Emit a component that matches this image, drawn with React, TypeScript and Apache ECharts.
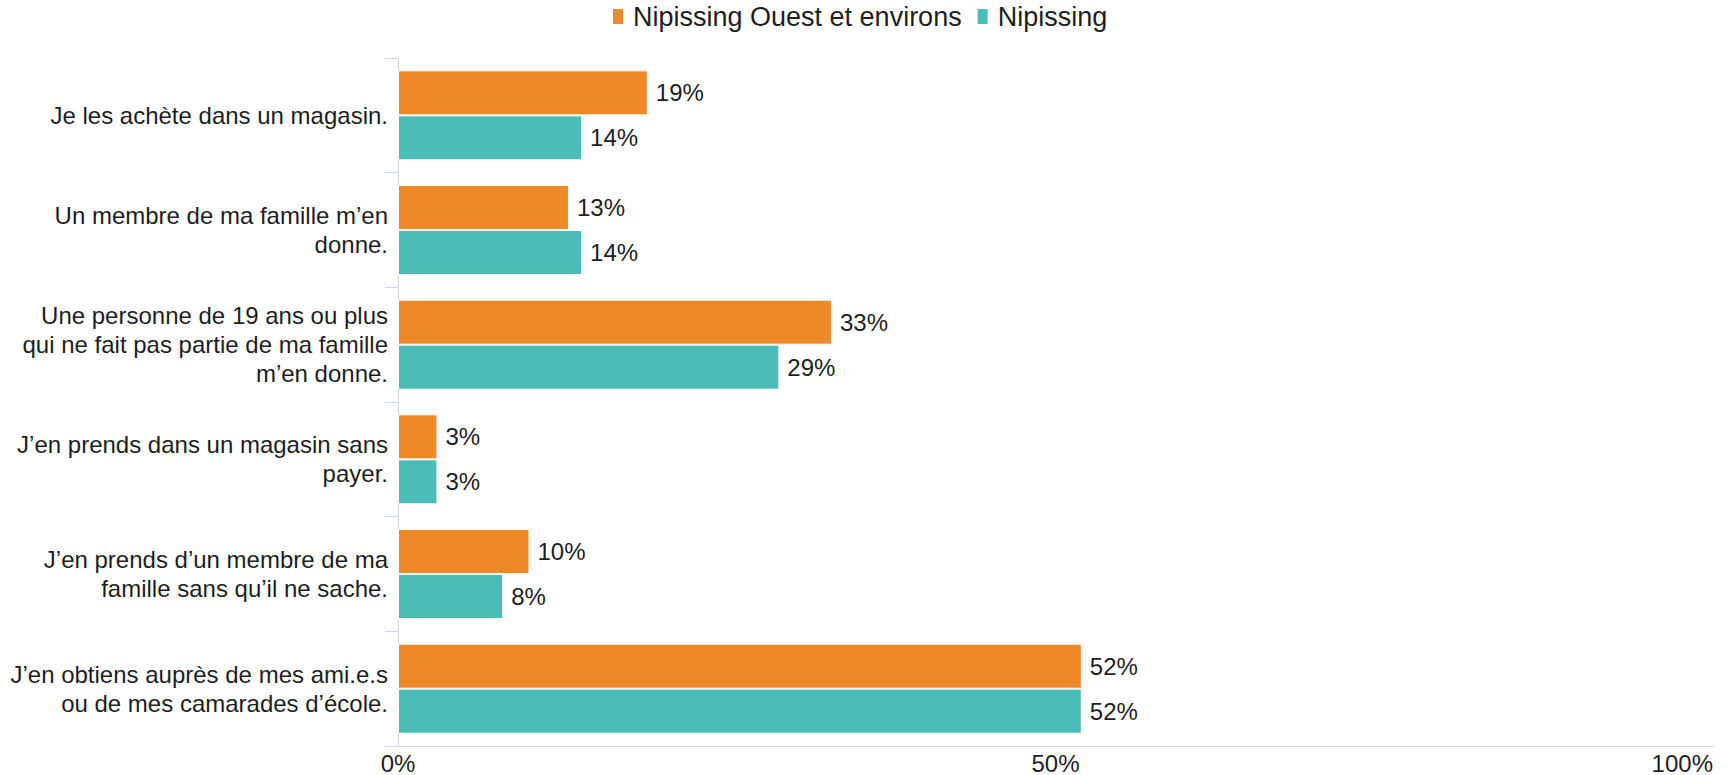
import React, { useEffect, useRef } from "react";
import * as echarts from "echarts";

const categories = [
  "Je les achète dans un magasin.",
  "Un membre de ma famille m’en\ndonne.",
  "Une personne de 19 ans ou plus\nqui ne fait pas partie de ma famille\nm’en donne.",
  "J’en prends dans un magasin sans\npayer.",
  "J’en prends d’un membre de ma\nfamille sans qu’il ne sache.",
  "J’en obtiens auprès de mes ami.e.s\nou de mes camarades d’école.",
];
const seriesNames = ["Nipissing Ouest et environs", "Nipissing"];
const westValues = [19, 13, 33, 3, 10, 52];
const nipissingValues = [14, 14, 29, 3, 8, 52];
const xTicks = { min: 0, max: 100, interval: 50 };

const FONT = '"Liberation Sans", Arial, Helvetica, sans-serif';
const TEXT = "#1e1e1e";
const AXIS = "#ccd6eb";
const COLORS = ["#EF8826", "#4CBCB6"];

export default function App() {
  const ref = useRef<HTMLDivElement>(null);
  useEffect(() => {
    document.body.style.margin = "0";
    if (!ref.current) return;
    const chart = echarts.init(ref.current, undefined, { renderer: "svg" });
    const label = {
      show: true,
      position: "right" as const,
      distance: 8,
      formatter: "{c}%",
      fontSize: 24,
      color: TEXT,
      fontFamily: FONT,
    };
    chart.setOption({
      animation: false,
      textStyle: { fontFamily: FONT },
      color: COLORS,
      legend: {
        data: seriesNames,
        top: 3,
        left: 611,
        padding: 0,
        icon: "rect",
        itemWidth: 12,
        itemHeight: 17,
        itemGap: 14,
        textStyle: { fontSize: 27, color: TEXT, fontFamily: FONT, padding: [0, 0, 0, 4] },
      },
      grid: { left: 398, right: 16, top: 58, bottom: 24, containLabel: false },
      xAxis: {
        type: "value",
        min: xTicks.min,
        max: xTicks.max,
        interval: xTicks.interval,
        axisLine: { show: true, lineStyle: { color: AXIS, width: 1 } },
        axisTick: { show: false },
        splitLine: { show: false },
        axisLabel: {
          formatter: "{value}%",
          fontSize: 24,
          color: TEXT,
          fontFamily: FONT,
          margin: 5,
          alignMaxLabel: "right",
        },
      },
      yAxis: {
        type: "category",
        data: categories,
        inverse: true,
        axisLine: { show: true, lineStyle: { color: AXIS, width: 1 } },
        axisTick: { show: true, length: 13, lineStyle: { color: AXIS, width: 1 } },
        axisLabel: {
          fontSize: 24,
          lineHeight: 29,
          color: TEXT,
          fontFamily: FONT,
          margin: 10,
          align: "right",
        },
      },
      series: [
        {
          name: seriesNames[0],
          type: "bar",
          data: westValues,
          barWidth: 45,
          barGap: "0%",
          itemStyle: { color: COLORS[0], borderColor: "#ffffff", borderWidth: 1 },
          label,
        },
        {
          name: seriesNames[1],
          type: "bar",
          data: nipissingValues,
          barWidth: 45,
          itemStyle: { color: COLORS[1], borderColor: "#ffffff", borderWidth: 1 },
          label,
        },
      ],
    });
    return () => chart.dispose();
  }, []);
  return <div ref={ref} style={{ width: 1729, height: 775 }} />;
}
